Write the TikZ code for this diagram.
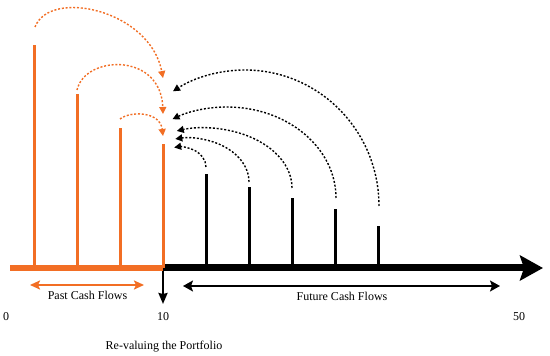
\documentclass[tikz,border=0pt]{standalone}
\usepackage{fontspec}
\setmainfont{Liberation Serif}
\usetikzlibrary{arrows.meta}
\definecolor{corange}{RGB}{242,110,36}
\tikzset{
  lbl/.style={font=\fontsize{12}{14}\selectfont, inner sep=0pt},
  obar/.style={draw=corange, line width=3pt},
  kbar/.style={draw=black, line width=3pt},
  odash/.style={draw=corange, line width=1.4pt, dash pattern=on 2pt off 1.8pt, -{Triangle[length=7pt,width=7pt]}},
  kdash/.style={draw=black, line width=1.4pt, dash pattern=on 2pt off 1.8pt, -{Triangle[length=7pt,width=7pt]}},
}
\begin{document}
\begin{tikzpicture}[x=1pt,y=1pt]
\useasboundingbox[fill=white] (0,0) rectangle (550,356);
% axis
\coordinate (a0) at (10,88);
\coordinate (a10) at (163,88);
\coordinate (aend) at (543,88);
\draw[corange, line width=6.5pt] (a0) -- (a10);
\draw[black, line width=7pt, -{Stealth[length=23pt,width=25pt,inset=4pt]}] (a10) -- (aend);
% orange bars
\foreach \x/\t [count=\i] in {34/311, 77/262, 120/228, 163/212}{
  \coordinate (ot\i) at (\x,\t);
  \coordinate (ob\i) at (\x,88);
  \draw[obar] (ob\i) -- (ot\i);
}
% black bars
\foreach \x/\t [count=\i] in {206/182, 249/169, 292/158, 335/147, 378/130}{
  \coordinate (kt\i) at (\x,\t);
  \coordinate (kb\i) at (\x,88);
  \draw[kbar] (kb\i) -- (kt\i);
}
% orange dashed arcs
\coordinate (os1) at (35,329); \coordinate (oe1) at (163,278);
\coordinate (os2) at (77,266); \coordinate (oe2) at (163,242);
\coordinate (os3) at (120,237); \coordinate (oe3) at (163,220);
\draw[odash] (os1) .. controls (50,368) and (150,346) .. (oe1);
\draw[odash] (os2) .. controls (85,301) and (161,304) .. (oe2);
\draw[odash] (os3) .. controls (130,245) and (160,245) .. (oe3);
% black dashed arcs
\coordinate (ks1) at (206,189);
\coordinate (ks2) at (249,174);
\coordinate (ks3) at (292,168);
\coordinate (ks4) at (336,158);
\coordinate (ks5) at (379,150);
\draw[kdash] (ks1) arc[start angle=0, end angle=103, x radius=26, y radius=20];
\draw[kdash] (ks2) arc[start angle=0, end angle=102, x radius=61, y radius=44];
\draw[kdash] (ks3) arc[start angle=0, end angle=108, x radius=88, y radius=60];
\draw[kdash] (ks4) arc[start angle=0, end angle=120, x radius=109, y radius=91];
\draw[kdash] (ks5) arc[start angle=0, end angle=122.5, x radius=134, y radius=136];
% down arrow
\coordinate (dtip) at (163,52);
\draw[black, line width=2pt, -{Stealth[length=11pt,width=9pt,inset=1pt]}] (163,85) -- (dtip);
% past / future arrows
\coordinate (pl) at (30,71); \coordinate (pr) at (144,71);
\draw[corange, line width=2pt, {Stealth[length=10pt,width=9pt,inset=2pt]}-{Stealth[length=10pt,width=9pt,inset=2pt]}] (pl) -- (pr);
\coordinate (fl) at (183,70); \coordinate (fr) at (500,70);
\draw[black, line width=1.5pt, {Stealth[length=10pt,width=11pt,inset=2pt]}-{Stealth[length=10pt,width=11pt,inset=2pt]}] (fl) -- (fr);
% labels
\node[lbl] (tpast) at (87.5,61) {Past Cash Flows};
\node[lbl] (tfut) at (342,60) {Future Cash Flows};
\node[lbl] (t0) at (6,39) {0};
\node[lbl] (t10) at (163,39) {10};
\node[lbl] (t50) at (519,39) {50};
\node[lbl] (trev) at (164,9) {Re-valuing the Portfolio};
\end{tikzpicture}
\end{document}
